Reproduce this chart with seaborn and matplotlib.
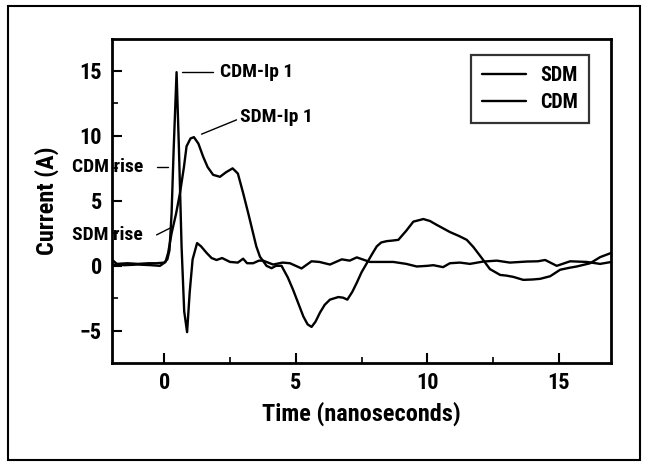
import matplotlib
matplotlib.use("Agg")
import matplotlib.pyplot as plt
from matplotlib.patches import Rectangle
from matplotlib.ticker import MultipleLocator
from matplotlib import font_manager
import seaborn as sns
import pandas as pd

# ---- data ----
cdm_t = [-2.0, -1.8, -1.4, -1.0, -0.6, -0.3, 0.0, 0.12, 0.2, 0.28, 0.36, 0.47,
         0.56, 0.66, 0.76, 0.87, 0.97, 1.08, 1.25, 1.4, 1.61, 1.8, 1.99, 2.2,
         2.5, 2.8, 3.0, 3.15, 3.38, 3.6, 3.76, 4.14, 4.5, 4.78, 5.22, 5.6, 5.9,
         6.3, 6.75, 7.05, 7.32, 7.82, 8.3, 8.71, 9.2, 9.6, 10.0, 10.23, 10.6,
         10.86, 11.24, 11.62, 12.13, 12.64, 13.14, 13.78, 14.2, 14.48, 14.92,
         15.43, 16.06, 16.57, 17.0]
cdm_v = [0.5, 0.15, 0.2, 0.15, 0.2, 0.2, 0.25, 0.5, 1.2, 4.0, 9.0, 14.9,
         9.0, 1.5, -3.5, -5.1, -2.0, 0.5, 1.75, 1.5, 1.0, 0.6, 0.45, 0.6,
         0.3, 0.25, 0.55, 0.2, 0.2, 0.4, 0.4, 0.1, 0.25, 0.2, -0.2, 0.35, 0.3,
         0.1, 0.5, 0.4, 0.65, 0.3, 0.3, 0.3, 0.15, -0.05, 0.0, 0.05, -0.1,
         0.2, 0.25, 0.15, 0.33, 0.4, 0.25, 0.33, 0.35, 0.45, 0.0,
         0.35, 0.3, 0.15, 0.3]

sdm_t = [-2.0, -1.5, -1.0, -0.5, -0.16, 0.05, 0.15, 0.28, 0.45, 0.6, 0.75,
         0.85, 1.0, 1.13, 1.3, 1.48, 1.65, 1.86, 2.12, 2.35, 2.6, 2.8, 3.0,
         3.2, 3.38, 3.5, 3.64, 3.89, 4.08, 4.25, 4.46, 4.7, 4.9, 5.1, 5.29,
         5.45, 5.6, 5.75, 5.92, 6.1, 6.3, 6.62, 6.8, 6.96, 7.15, 7.32, 7.5,
         7.7, 7.9, 8.08, 8.25, 8.46, 8.7, 8.9, 9.2, 9.47, 9.85, 10.1, 10.36,
         10.86, 11.2, 11.5, 11.75, 12.07, 12.38, 12.77, 13.0, 13.27, 13.65,
         14.0, 14.29, 14.67, 15.05, 15.4, 15.68, 16.19, 16.57, 17.0]
sdm_v = [0.1, 0.05, 0.1, 0.05, 0.0, 0.3, 1.0, 2.5, 4.0, 5.6, 7.6,
         9.2, 9.8, 9.9, 9.4, 8.4, 7.6, 7.0, 6.85, 7.2, 7.5, 7.1, 5.6,
         4.0, 2.5, 1.5, 0.7, 0.0, -0.18, 0.0, 0.0, -0.9, -1.85, -2.9, -3.9,
         -4.5, -4.7, -4.3, -3.6, -3.0, -2.6, -2.4, -2.45, -2.6, -2.0, -1.3, -0.5,
         0.2, 0.9, 1.5, 1.8, 1.9, 1.95, 2.0, 2.7, 3.4, 3.6, 3.45, 3.15,
         2.6, 2.3, 2.0, 1.45, 0.6, -0.25, -0.7, -0.75, -0.85, -1.08,
         -1.05, -1.0, -0.8, -0.3, -0.15, -0.05, 0.2, 0.67, 1.0]

series_names = ["SDM", "CDM"]
x_ticks = [0, 5, 10, 15]
y_ticks = [-5, 0, 5, 10, 15]

df = pd.concat([
    pd.DataFrame({"t": sdm_t, "I": sdm_v, "series": "SDM"}),
    pd.DataFrame({"t": cdm_t, "I": cdm_v, "series": "CDM"}),
], ignore_index=True)

sns.set_style("ticks")

# pick a narrow bold face if one is installed
names = {f.name for f in font_manager.fontManager.ttflist}
narrow = [n for n in ["Liberation Sans Narrow", "Roboto Condensed",
                      "Open Sans Condensed", "DejaVu Sans Condensed"] if n in names]
plt.rcParams["font.family"] = narrow + ["DejaVu Sans"]
plt.rcParams["font.stretch"] = "condensed"
plt.rcParams["font.weight"] = "bold"
for k in ["text.color", "axes.labelcolor", "xtick.color", "ytick.color",
          "axes.edgecolor"]:
    plt.rcParams[k] = "black"

fig = plt.figure(figsize=(6.45, 4.66), dpi=100)
ax = fig.add_axes([0.173, 0.222, 0.775, 0.694])

sns.lineplot(data=df, x="t", y="I", hue="series", hue_order=series_names,
             palette={"SDM": "black", "CDM": "black"}, estimator=None,
             sort=False, linewidth=1.7, ax=ax)

ax.set_xlim(-2.0, 17.0)
ax.set_ylim(-7.44, 17.44)
ax.set_xticks(x_ticks)
ax.set_yticks(y_ticks)
ax.xaxis.set_minor_locator(MultipleLocator(2.5))
ax.yaxis.set_minor_locator(MultipleLocator(2.5))
ax.tick_params(which="major", direction="in", length=7, width=1.5,
               labelsize=16, pad=7)
ax.tick_params(which="minor", direction="in", length=4, width=1.2)
for lab in ax.get_xticklabels() + ax.get_yticklabels():
    lab.set_fontweight("bold")
for s in ax.spines.values():
    s.set_visible(True)
    s.set_linewidth(2.0)
    s.set_color("black")

ax.set_xlabel("Time (nanoseconds)", fontsize=17.5, fontweight="bold", labelpad=5)
ax.set_ylabel("Current (A)", fontsize=17.5, fontweight="bold")
ax.yaxis.set_label_coords(-0.105, 0.5)

leg = ax.legend(loc="upper right", bbox_to_anchor=(0.955, 0.951),
                borderaxespad=0, frameon=True, fancybox=False,
                handlelength=2.2, handletextpad=0.7, borderpad=0.55,
                labelspacing=0.4, prop={"size": 14.5, "weight": "bold"})
leg.get_frame().set_edgecolor("black")
leg.get_frame().set_linewidth(1.6)
leg.set_title(None)

# annotations with leader lines
lead = dict(color="black", lw=1.0)
fs_ann = 14
ax.plot([0.66, 1.86], [14.95, 14.95], **lead)
ax.text(2.12, 14.95, "CDM-Ip 1", ha="left", va="center", fontsize=fs_ann,
        fontweight="bold")
ax.plot([1.42, 2.75], [10.13, 11.23], **lead)
ax.text(2.88, 11.44, "SDM-Ip 1", ha="left", va="center", fontsize=fs_ann,
        fontweight="bold")
ax.plot([-0.29, 0.15], [7.64, 7.64], **lead)
ax.text(-0.8, 7.64, "CDM rise", ha="right", va="center", fontsize=fs_ann,
        fontweight="bold", clip_on=False)
ax.plot([-0.29, 0.22], [2.38, 2.9], **lead)
ax.text(-0.8, 2.38, "SDM rise", ha="right", va="center", fontsize=fs_ann,
        fontweight="bold", clip_on=False)

# outer frame of the figure
fig.add_artist(Rectangle((0.012, 0.012), 0.981, 0.976, transform=fig.transFigure,
                         fill=False, lw=1.5, ec="black"))

fig.savefig("out.png", dpi=100)
